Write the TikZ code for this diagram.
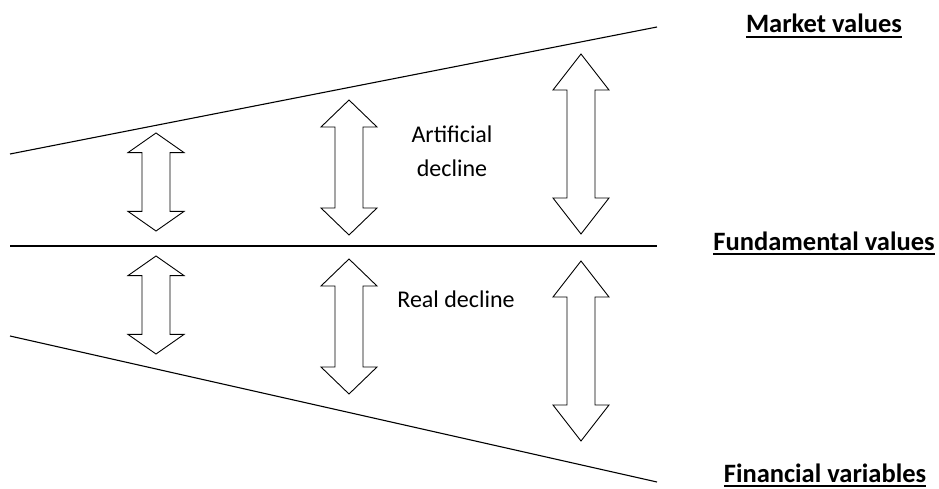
\documentclass[tikz,border=0pt]{standalone}
\usepackage{fontspec}
\setmainfont{Carlito}
\begin{document}
% bold caption with a heavy underline, as in the slide
\newcommand{\thickul}[1]{\leavevmode\vtop{\hbox{#1}\kern2.4pt\hrule height 2.3pt}}
% up-down block arrow: centre x, top y, bottom y (head = 1/5 of length)
\newcommand{\udarrow}[3]{%
  \pgfmathsetmacro{\ya}{#2+0.2*(#3-#2)}%
  \pgfmathsetmacro{\yb}{#3-0.2*(#3-#2)}%
  \draw[blockarrow] (#1,#2) -- (#1+28,\ya) -- (#1+14,\ya) -- (#1+14,\yb)
    -- (#1+28,\yb) -- (#1,#3) -- (#1-28,\yb) -- (#1-14,\yb) -- (#1-14,\ya)
    -- (#1-28,\ya) -- cycle;}
\begin{tikzpicture}[x=1pt,y=-1pt,
  level/.style={line width=1.1pt},
  blockarrow/.style={draw=black,fill=white,line width=0.9pt,line join=miter},
  caption/.style={font=\fontsize{26.5}{30}\selectfont\bfseries,anchor=base,inner sep=0pt},
  note/.style={font=\fontsize{24}{34}\selectfont,align=center,inner sep=0pt}]
  \useasboundingbox (0,0) rectangle (939,489);

  % the three levels
  \coordinate (mL) at (10,154);  \coordinate (mR) at (657,27);
  \coordinate (fL) at (10,246);  \coordinate (fR) at (657,246);
  \coordinate (vL) at (10,336);  \coordinate (vR) at (657,482);
  \draw[level] (mL) -- (mR);
  \draw[level] (fL) -- (fR);
  \draw[level] (vL) -- (vR);

  % gaps between the levels
  \udarrow{156}{133}{231}
  \udarrow{349}{100}{235}
  \udarrow{581}{54}{234}
  \udarrow{156}{256}{354}
  \udarrow{349}{259}{394}
  \udarrow{581}{261}{441}

  \node[note] (art) at (452,151) {Artificial\\decline};
  \node[note] (real) at (456,299) {Real decline};

  \node[caption] (market) at (824,33) {\thickul{Market values}};
  \node[caption] (fund) at (824,250) {\thickul{Fundamental values}};
  \node[caption] (fin) at (825,482) {\thickul{Financial variables}};
\end{tikzpicture}
\end{document}
